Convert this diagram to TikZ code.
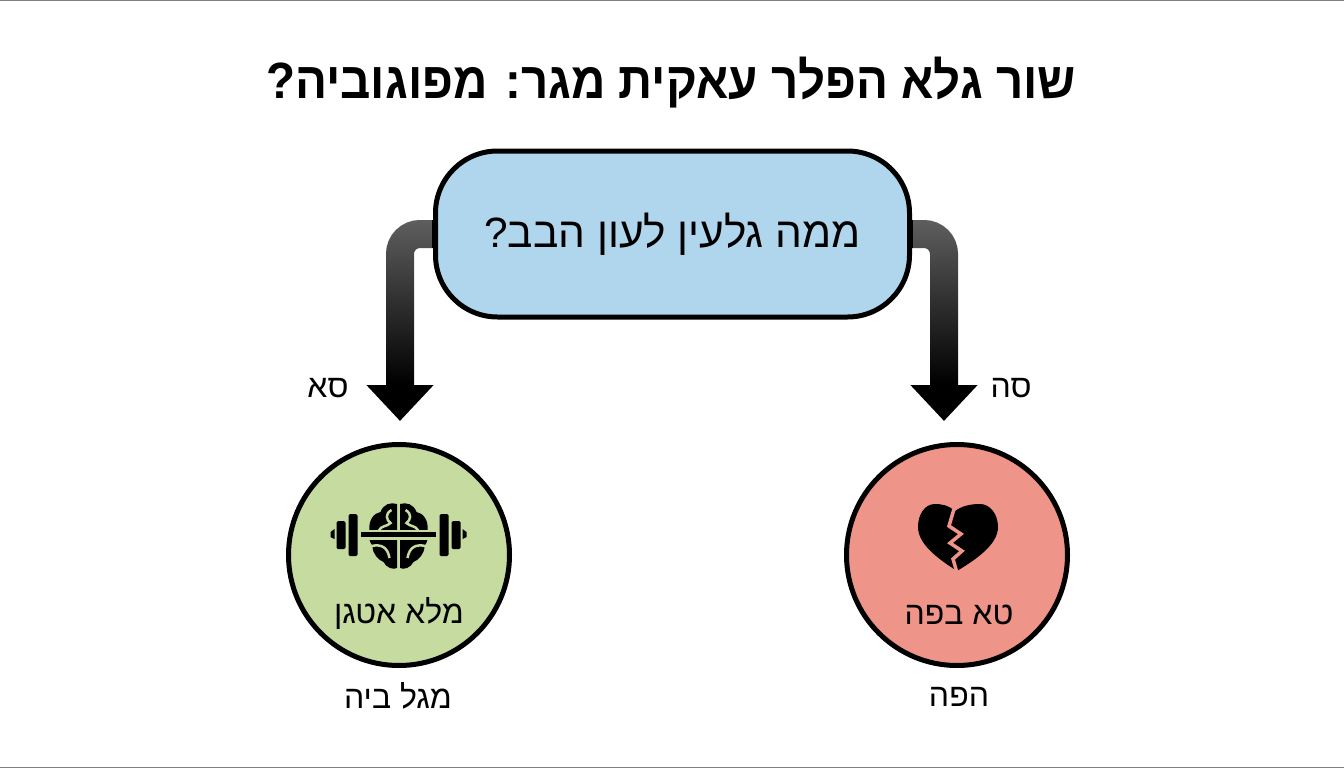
\documentclass[tikz,border=0pt]{standalone}
\usepackage{fontspec}
\setmainfont[Script=Hebrew]{Liberation Sans}
\TeXXeTstate=1
\usetikzlibrary{arrows.meta,fadings}
\definecolor{boxblue}{HTML}{B0D6ED}
\definecolor{goodgreen}{HTML}{C5DBA0}
\definecolor{badred}{HTML}{EF9488}
\tikzfading[name=fadedown,top color=transparent!62,bottom color=transparent!100]
\tikzset{
  question/.style={draw=black,line width=5pt,fill=boxblue,rounded corners=62pt,minimum width=474pt,minimum height=166pt,font=\fontsize{42.4}{48}\selectfont},
  outcome/.style={circle,draw=black,line width=5pt,minimum size=221pt},
  branch/.style={draw=black,line width=28pt,rounded corners=20pt,-{Triangle[width=65pt,length=36pt]}},
  caption/.style={font=\fontsize{32}{37}\selectfont},
}
\begin{document}
\begin{tikzpicture}[x=1pt,y=-1pt]
      \useasboundingbox (0,0) rectangle (1344,768);
      \draw[gray,line width=1pt] (0,0.5) -- (1344,0.5) (0,767.5) -- (1344,767.5);
      \node[font=\bfseries\fontsize{51}{58}\selectfont] (title) at (671,83) {\scalebox{.93}[1]{\beginR שור גלא הפלר עאקית מגר: מפוגוביה?\endR}};
      \node[question] (ask) at (672.5,234) {\beginR ממה גלעין לעון הבב?\endR};
      \node[outcome,fill=goodgreen] (gain) at (399,555) {};
      \node[outcome,fill=badred] (loss) at (957,555) {};
      \coordinate (gaintip) at (400,421); \coordinate (losstip) at (944,421);

      \draw[branch] (ask.west) -| (gaintip); \draw[branch] (ask.east) -| (losstip);
      \fill[white,path fading=fadedown] (360,215) rectangle (432,385); \fill[white,path fading=fadedown] (913,215) rectangle (985,385);

      \node[caption] (nolabel) at (328,388) {\beginR סא\endR}; \node[caption] (yeslabel) at (1011,388) {\beginR סה\endR};
      \node[caption] (gaintext) at (399,613) {\beginR מלא אטגן\endR}; \node[caption] (losstext) at (959,615) {\beginR טא בפה\endR};
      \node[caption] (gainnote) at (398,696) {\beginR מגל ביה\endR}; \node[caption] (lossnote) at (959,697) {\beginR הפה\endR};

      \foreach \s in {1,-1} {
        \begin{scope}[shift={(398.5,534)},xscale=\s]
          \fill[rounded corners=1.5pt] (41,-20) rectangle (50,22) (53,-13) rectangle (62,15);
          \fill (64,-5) -- (68,-2) -- (68,3) -- (64,5) -- cycle;
          \fill (1.5,-30) .. controls (8,-32) and (15,-30) .. (18,-22) .. controls (25,-21) and (30,-13) .. (29,-5) .. controls (31,2) and (29,8) .. (26,12) .. controls (26,20) and (20,26) .. (15,28) .. controls (12,34) and (5,36) .. (1.5,34) -- cycle;
          \draw[goodgreen,line width=2.5pt] (7,-24) .. controls (14,-20) and (12,-14) .. (8,-11) .. controls (12,-7) and (17,-9) .. (20,-3) (27,12) .. controls (17,10) and (11,13) .. (9,24);
        \end{scope}
      }
      \draw[goodgreen,line width=10pt] (358,534.5) -- (439,534.5);
      \draw[black,line width=5.5pt] (361,534.5) -- (436,534.5);

      \fill (955,511) .. controls (948,505) and (941,504) .. (935,504) .. controls (925,504) and (918,514) .. (918,527) .. controls (918,545) and (940,560) .. (957,571) .. controls (975,560) and (998,545) .. (998,527) .. controls (998,514) and (990,504) .. (980,504) .. controls (970,504) and (962,506) .. (955,511) -- cycle;
      \draw[badred,line width=3.5pt] (954,509) -- (949,526) -- (961,534) -- (950,543) -- (962,551) -- (953,559) -- (957,573);
    \end{tikzpicture}
\end{document}
